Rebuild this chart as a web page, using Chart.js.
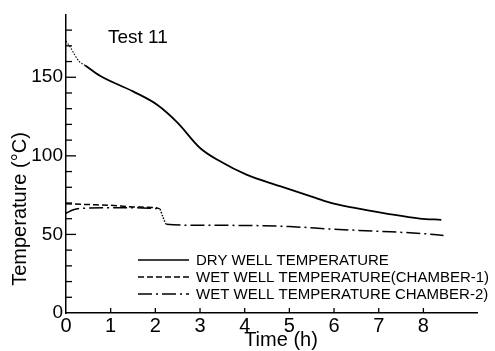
<!DOCTYPE html>
<html>
<head>
<meta charset="utf-8">
<script src="https://cdn.jsdelivr.net/npm/chart.js@4/dist/chart.umd.min.js"></script>
<style>
  html, body { margin: 0; padding: 0; background: #fff; }
  #wrap { width: 495px; height: 351px; position: relative; }
</style>
</head>
<body>
<div id="wrap"><canvas id="c" width="495" height="351"></canvas></div>
<script>
// ---- data ----
const dryX = [0, 0.1, 0.2, 0.3, 0.43, 0.76, 1.5, 2.04, 2.5, 3.0, 3.45, 4.04, 4.79, 5.5, 5.91, 6.43, 7.17, 7.92, 8.4];
const dryY = [173, 169, 164, 160, 157.5, 151, 141, 132.5, 121, 105, 96.5, 88, 80.7, 74, 70.2, 67, 63.3, 60.1, 59.3];

const wet1X = [0, 0.5, 1, 1.5, 2.0, 2.1];
const wet1Y = [69.5, 69, 68.5, 67.5, 67, 66.3];

const wet2X = [0, 0.15, 0.3, 1, 1.5, 2.0, 2.1, 2.17, 2.25, 3, 4, 5, 6, 7, 8, 8.45];
const wet2Y = [63.5, 65.5, 66.5, 67, 67, 66.5, 66, 61, 56.5, 55.8, 55.7, 55, 53.3, 52, 50.5, 49.3];

const seriesNames = [
  "DRY WELL TEMPERATURE",
  "WET WELL TEMPERATURE(CHAMBER-1)",
  "WET WELL TEMPERATURE CHAMBER-2)"
];
const xTickValues = [0, 1, 2, 3, 4, 5, 6, 7, 8];
const yTickValues = [0, 50, 100, 150];
const yMinorTicks = [10, 20, 30, 40, 60, 70, 80, 90, 110, 120, 130, 140, 160, 170, 180];
const chartTitle = "Test 11";
const xTitle = "Time (h)";
const yTitle = "Temperature (°C)";

const toPts = (xs, ys) => xs.map((x, i) => ({ x: x, y: ys[i] }));

const FONT = "'Liberation Sans', Arial, sans-serif";

const dotted = [1.5, 1.5];

const extras = {
  id: 'extras',
  afterDraw(chart) {
    const ctx = chart.ctx;
    const xs = chart.scales.x, ys = chart.scales.y;
    const x0 = xs.getPixelForValue(0);
    const y0 = ys.getPixelForValue(0);
    ctx.save();
    ctx.strokeStyle = '#000';
    ctx.lineWidth = 1.3;
    // inward y ticks
    yTickValues.forEach(v => {
      if (v === 0) return;
      const p = ys.getPixelForValue(v);
      ctx.beginPath(); ctx.moveTo(x0, p); ctx.lineTo(x0 + 10, p); ctx.stroke();
    });
    yMinorTicks.forEach(v => {
      const p = ys.getPixelForValue(v);
      ctx.beginPath(); ctx.moveTo(x0, p); ctx.lineTo(x0 + 6, p); ctx.stroke();
    });
    // inward x ticks
    xTickValues.forEach(v => {
      if (v === 0) return;
      const p = xs.getPixelForValue(v);
      ctx.beginPath(); ctx.moveTo(p, y0); ctx.lineTo(p, y0 - 5); ctx.stroke();
    });
    ctx.fillStyle = '#000';
    ctx.textBaseline = 'middle';
    // chart title
    ctx.font = "19px " + FONT;
    ctx.textAlign = 'left';
    ctx.fillText(chartTitle, 108, 38);
    // axis titles
    ctx.font = "20px " + FONT;
    ctx.textAlign = 'center';
    ctx.fillText(xTitle, 281, 340);
    ctx.save();
    ctx.translate(20, 209);
    ctx.rotate(-Math.PI / 2);
    ctx.fillText(yTitle, 0, 0);
    ctx.restore();
    // legend
    const rows = [260, 277, 294];
    ctx.font = "15px " + FONT;
    ctx.textAlign = 'left';
    chart.data.datasets.forEach((ds, i) => {
      const y = rows[i];
      ctx.beginPath();
      ctx.setLineDash(ds.borderDash || []);
      ctx.lineWidth = 1.5;
      ctx.moveTo(138, y); ctx.lineTo(189, y); ctx.stroke();
      ctx.setLineDash([]);
      ctx.fillText(seriesNames[i], 196, y + 1);
    });
    ctx.restore();
  }
};

new Chart(document.getElementById('c'), {
  type: 'line',
  data: {
    datasets: [
      {
        label: seriesNames[0],
        data: toPts(dryX, dryY),
        borderColor: '#000',
        borderWidth: 1.8,
        pointRadius: 0,
        cubicInterpolationMode: 'monotone',
        borderDash: [],
        segment: {
          borderDash: c => (c.p1.parsed.x <= 0.43 ? dotted : undefined),
          borderWidth: c => (c.p1.parsed.x <= 0.43 ? 1.1 : undefined)
        }
      },
      {
        label: seriesNames[1],
        data: toPts(wet1X, wet1Y),
        borderColor: '#000',
        borderWidth: 1.5,
        pointRadius: 0,
        cubicInterpolationMode: 'monotone',
        borderDash: [6, 3]
      },
      {
        label: seriesNames[2],
        data: toPts(wet2X, wet2Y),
        borderColor: '#000',
        borderWidth: 1.5,
        pointRadius: 0,
        cubicInterpolationMode: 'monotone',
        borderDash: [14, 4, 2, 4],
        segment: {
          borderDash: c => (c.p0.parsed.x >= 2.1 && c.p1.parsed.x <= 2.25 ? dotted : undefined)
        }
      }
    ]
  },
  options: {
    responsive: false,
    animation: false,
    devicePixelRatio: 1,
    layout: { padding: { left: 0, top: 12, right: 18, bottom: 0 } },
    plugins: { legend: { display: false }, tooltip: { enabled: false } },
    scales: {
      x: {
        type: 'linear',
        min: 0,
        max: 9.2,
        afterBuildTicks: s => { s.ticks = xTickValues.map(v => ({ value: v })); },
        afterFit: s => { s.height = 38; },
        grid: { display: false, drawTicks: false },
        border: { display: true, color: '#000', width: 1.5 },
        ticks: { color: '#000', padding: 1, font: { size: 20, family: FONT }, maxRotation: 0, autoSkip: false },
        title: { display: false, text: xTitle }
      },
      y: {
        type: 'linear',
        min: 0,
        max: 190,
        afterBuildTicks: s => { s.ticks = yTickValues.map(v => ({ value: v })); },
        afterFit: s => { s.width = 66; },
        grid: { display: false, drawTicks: false },
        border: { display: true, color: '#000', width: 1.5 },
        ticks: { color: '#000', padding: 3, font: { size: 19, family: FONT } },
        title: { display: false, text: yTitle }
      }
    }
  },
  plugins: [extras]
});
</script>
</body>
</html>
